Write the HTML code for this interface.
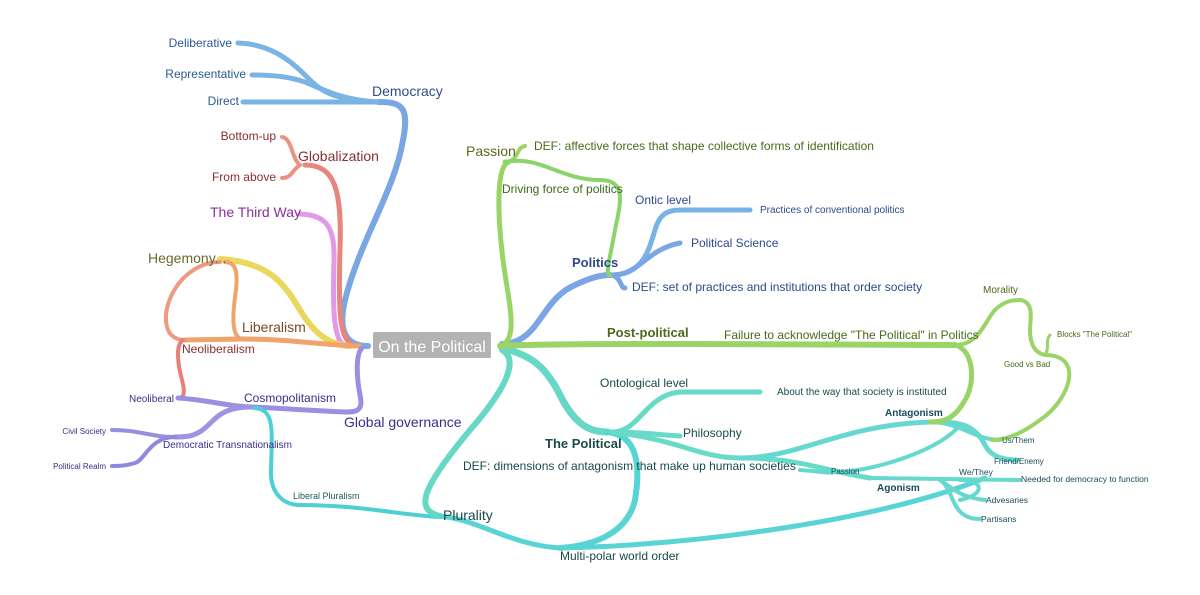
<!DOCTYPE html>
<html><head><meta charset="utf-8"><style>
html,body{margin:0;padding:0;background:#fff;width:1200px;height:595px;overflow:hidden}
svg{display:block}
text{font-family:"Liberation Sans",sans-serif}
</style></head><body>
<svg width="1200" height="595" viewBox="0 0 1200 595" xmlns="http://www.w3.org/2000/svg" fill="none" stroke-linecap="round">
<g stroke="#7aa6e3">
<path d="M368,346 C345,346 338,330 345,300 C360,240 395,190 403,140 C410,105 400,102 378,102" stroke-width="6"/>
</g>
<g stroke="#7ab4e4" stroke-width="5">
<path d="M378,102 L243,102"/>
<path d="M378,102 C330,100 320,90 305,75 C290,60 270,44 238,43"/>
<path d="M378,102 C340,100 320,88 305,82 C290,77 275,75 252,75"/>
</g>
<path d="M355,346 C340,340 338,320 340,250 C342,190 335,165 305,165" stroke="#e8857d" stroke-width="5"/>
<g stroke="#ea9382" stroke-width="4">
<path d="M300,165 C292,160 292,138 282,137"/>
<path d="M300,165 C292,170 292,178 282,178"/>
</g>
<path d="M345,346 C332,340 333,300 334,260 C335,225 325,215 300,214" stroke="#e199e8" stroke-width="5"/>
<path d="M350,346 C330,345 315,335 300,310 C285,285 270,262 220,259" stroke="#ead85e" stroke-width="6"/>
<path d="M360,346 C320,345 290,339 243,339 L185,340" stroke="#f0a46c" stroke-width="5"/>
<path d="M243,339 C230,339 233,310 236,290 C238,270 235,262 225,262" stroke="#f0a46c" stroke-width="4"/>
<path d="M220,262 C190,262 168,290 166,315 C165,335 175,340 185,340" stroke="#ef9882" stroke-width="4"/>
<path d="M183,340 C175,345 178,365 182,380 C186,395 183,398 178,398" stroke="#e88078" stroke-width="4"/>
<path d="M362,348 C355,355 357,380 360,395 C364,412 355,412 345,412 C300,410 280,408 252,407 C230,407 210,400 178,398" stroke="#9a90e2" stroke-width="5"/>
<path d="M252,407 C220,407 215,420 205,428 C195,437 185,437 175,437" stroke="#9f93e3" stroke-width="5"/>
<path d="M175,437 C150,437 140,430 112,430" stroke="#9490e0" stroke-width="4"/>
<path d="M175,437 C150,437 145,460 135,463 C125,466 118,466 112,466" stroke="#8e88e0" stroke-width="4"/>
<path d="M255,408 C275,410 272,430 271,470 C270,495 285,505 300,505 C360,505 400,515 440,517" stroke="#4cd0d4" stroke-width="4"/>
<path d="M502,350 C520,360 505,390 470,430 C420,490 415,510 440,516" stroke="#67d8c6" stroke-width="6"/>
<path d="M440,516 C480,520 510,545 560,548 C700,545 880,520 985,478" stroke="#58d4d4" stroke-width="5"/>
<path d="M502,348 C530,355 545,365 560,395 C575,425 590,432 607,432" stroke="#67d8c6" stroke-width="7"/>
<path d="M607,432 C640,435 640,470 635,500 C628,530 600,545 560,548" stroke="#58d4d4" stroke-width="6"/>
<path d="M612,432 C640,432 645,395 680,392 L760,392" stroke="#67dbc8" stroke-width="5"/>
<path d="M612,432 C640,432 650,434 680,436" stroke="#67dbc8" stroke-width="5"/>
<path d="M612,432 C680,440 700,458 740,458 C800,458 820,470 870,478" stroke="#67dbc8" stroke-width="5"/>
<path d="M740,458 C800,458 840,425 930,422 C960,421 975,425 985,445 C990,455 1000,460 1017,460" stroke="#67d8cf" stroke-width="5"/>
<path d="M930,422 C960,422 975,440 1000,440" stroke="#67d8cf" stroke-width="4"/>
<path d="M960,425 C940,450 880,468 850,471 C820,474 830,472 800,470" stroke="#67d8cf" stroke-width="4"/>
<path d="M870,478 L1020,480" stroke="#67d8cf" stroke-width="4"/>
<path d="M940,480 C955,490 960,497 985,500" stroke="#67d8cf" stroke-width="4"/>
<path d="M940,480 C955,490 950,519 980,519" stroke="#67d8cf" stroke-width="4"/>
<path d="M960,480 C985,480 985,495 960,500" stroke="#67d8cf" stroke-width="4"/>
<path d="M502,344 C540,343 540,300 575,285 C590,278 600,275 610,275" stroke="#7aa6e3" stroke-width="6"/>
<path d="M612,275 C645,275 650,245 655,230 C660,212 670,210 680,210 L750,210" stroke="#78b3e6" stroke-width="5"/>
<path d="M612,275 C640,275 645,250 680,243" stroke="#7aa6e3" stroke-width="5"/>
<path d="M612,275 C622,278 620,288 625,288" stroke="#7aa6e3" stroke-width="5"/>
<path d="M500,346 C520,340 508,300 503,260 C498,220 495,162 510,162 L505,162" stroke="#9ad466" stroke-width="5"/>
<path d="M506,162 C520,160 515,148 525,146" stroke="#9ad466" stroke-width="4"/>
<path d="M506,162 C540,155 560,180 600,180 C628,180 620,205 615,230 C610,258 605,275 610,275" stroke="#8ad46c" stroke-width="4"/>
<path d="M500,346 C540,344 600,344 690,344 L955,345" stroke="#9ad466" stroke-width="6"/>
<path d="M955,345 C980,345 985,320 995,310 C1005,300 1015,300 1020,300 C1035,302 1030,320 1030,330 C1030,345 1035,353 1045,355" stroke="#9ad466" stroke-width="4"/>
<path d="M1045,355 C1050,348 1045,340 1050,335" stroke="#9ad466" stroke-width="3"/>
<path d="M1045,355 C1085,355 1070,400 1040,420 C1020,435 1005,440 992,440" stroke="#9ad466" stroke-width="4"/>
<path d="M955,345 C975,350 975,385 965,400 C955,418 945,422 930,422" stroke="#9ad466" stroke-width="5"/>
<rect x="373" y="332" width="118" height="26" rx="2" fill="#b3b3b3"/>
<text x="432" y="352" font-size="16" fill="#fff" text-anchor="middle">On the Political</text>
<g font-size="12">
<text x="372" y="96" font-size="14" fill="#2b4e8a">Democracy</text>
<text x="232" y="47" text-anchor="end" fill="#2b5a90">Deliberative</text>
<text x="246" y="78" text-anchor="end" fill="#2b5a90">Representative</text>
<text x="239" y="105" text-anchor="end" fill="#2b5a90">Direct</text>
<text x="298" y="161" font-size="14" fill="#8a2e2e">Globalization</text>
<text x="276" y="140" text-anchor="end" fill="#8a2e2e">Bottom-up</text>
<text x="276" y="181" text-anchor="end" fill="#8a2e2e">From above</text>
<text x="210" y="217" font-size="14" fill="#8a2e9a">The Third Way</text>
<text x="148" y="263" font-size="14" fill="#6a6a2a">Hegemony. .</text>
<text x="242" y="332" font-size="14" fill="#7a4a2a">Liberalism</text>
<text x="182" y="353" fill="#8a2e2e">Neoliberalism</text>
<text x="174" y="402" font-size="10" text-anchor="end" fill="#3a2e8a">Neoliberal</text>
<text x="244" y="402" fill="#3a2e8a">Cosmopolitanism</text>
<text x="344" y="427" font-size="14" fill="#3a2e8a">Global governance</text>
<text x="163" y="448" font-size="10" fill="#3a2e8a">Democratic Transnationalism</text>
<text x="106" y="434" font-size="8" text-anchor="end" fill="#3a2e8a">Civil Society</text>
<text x="106" y="469" font-size="8" text-anchor="end" fill="#3a2e8a">Political Realm</text>
<text x="293" y="499" font-size="9" fill="#1a5a5a">Liberal Pluralism</text>
<text x="443" y="520" font-size="14" fill="#1a4a4a">Plurality</text>
<text x="560" y="560" fill="#1a4a4a">Multi-polar world order</text>
<text x="466" y="156" font-size="14" fill="#5a6a1a">Passion</text>
<text x="534" y="150" fill="#4a6a1a">DEF: affective forces that shape collective forms of identification</text>
<text x="502" y="193" fill="#3a6a1a">Driving force of politics</text>
<text x="572" y="267" font-size="13" font-weight="bold" fill="#2b4a8a">Politics</text>
<text x="635" y="204" fill="#2b4a8a">Ontic level</text>
<text x="760" y="213" font-size="10" fill="#2b4a8a">Practices of conventional politics</text>
<text x="691" y="247" fill="#2b4a8a">Political Science</text>
<text x="632" y="291" fill="#2b4a8a">DEF: set of practices and institutions that order society</text>
<text x="607" y="337" font-size="13" font-weight="bold" fill="#4a6a1a">Post-political</text>
<text x="724" y="339" fill="#4a6a1a">Failure to acknowledge "The Political" in Politics</text>
<text x="983" y="293" font-size="10" fill="#4a6a1a">Morality</text>
<text x="1057" y="337" font-size="8" fill="#4a6a1a">Blocks "The Political"</text>
<text x="1004" y="367" font-size="8" fill="#4a6a1a">Good vs Bad</text>
<text x="545" y="448" font-size="13" font-weight="bold" fill="#1a4a4a">The Political</text>
<text x="463" y="470" fill="#1a4a4a">DEF: dimensions of antagonism that make up human societies</text>
<text x="600" y="387" fill="#1a4a4a">Ontological level</text>
<text x="777" y="395" font-size="10" fill="#1a4a4a">About the way that society is instituted</text>
<text x="683" y="437" fill="#1a4a4a">Philosophy</text>
<text x="885" y="416" font-size="10" font-weight="bold" fill="#1a4a5a">Antagonism</text>
<text x="1002" y="443" font-size="8" fill="#1a4a5a">Us/Them</text>
<text x="994" y="464" font-size="8" fill="#1a4a5a">Friend/Enemy</text>
<text x="831" y="474" font-size="8" fill="#1a4a5a">Passion</text>
<text x="877" y="491" font-size="10" font-weight="bold" fill="#1a4a5a">Agonism</text>
<text x="959" y="475" font-size="8.5" fill="#1a4a5a">We/They</text>
<text x="1021" y="482" font-size="8.5" fill="#1a4a5a">Needed for democracy to function</text>
<text x="986" y="503" font-size="8.5" fill="#1a4a5a">Advesaries</text>
<text x="981" y="522" font-size="8.5" fill="#1a4a5a">Partisans</text>
</g>
</svg>
</body></html>
